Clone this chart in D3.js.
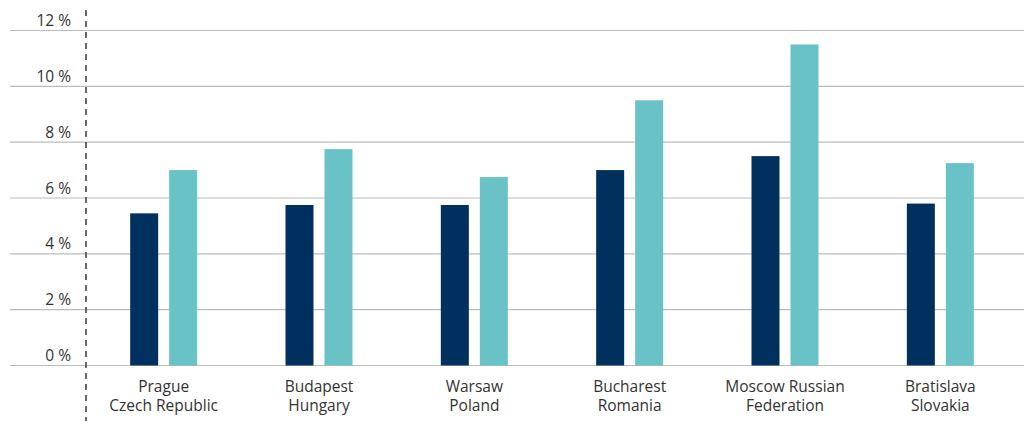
<!DOCTYPE html>
<html>
<head>
<meta charset="utf-8">
<script src="https://cdn.jsdelivr.net/npm/d3@7"></script>
<style>
  html, body { margin: 0; padding: 0; background: #fff; }
  svg { display: block; font-family: "Open Sans", "Noto Sans", sans-serif; }
</style>
</head>
<body>
<svg id="chart" width="1024" height="421"></svg>
<script>
// City / country pairs shown on the category axis
const cities = ["Prague", "Budapest", "Warsaw", "Bucharest", "Moscow Russian", "Bratislava"];
const countries = ["Czech Republic", "Hungary", "Poland", "Romania", "Federation", "Slovakia"];
// Two yield series per market (%)
const seriesNames = ["A", "B"];
const seriesA = [5.45, 5.75, 5.75, 7.0, 7.5, 5.8];
const seriesB = [7.0, 7.75, 6.75, 9.5, 11.5, 7.25];
const yTicks = [0, 2, 4, 6, 8, 10, 12];
const colors = ["#00305e", "#69c2c5"];

const svg = d3.select("#chart");
const W = 1024, H = 421;
const plotLeft = 86, plotRight = 1018;
const y = d3.scaleLinear().domain([0, 12]).range([365.5, 30.5]);

const x0 = d3.scaleBand()
  .domain(cities)
  .range([plotLeft, plotRight])
  .paddingInner(0.5687)
  .paddingOuter(0.5687 / 2);

const x1 = d3.scaleBand()
  .domain(seriesNames)
  .range([0, x0.bandwidth()])
  .paddingInner(0.282);

// Horizontal gridlines
svg.append("g")
  .selectAll("line")
  .data(yTicks)
  .join("line")
  .attr("x1", 10)
  .attr("x2", W)
  .attr("y1", d => y(d))
  .attr("y2", d => y(d))
  .attr("stroke", "#bcbcbc")
  .attr("stroke-width", 1.2);

// Tick labels sit just above each gridline
svg.append("g")
  .selectAll("text")
  .data(yTicks)
  .join("text")
  .attr("x", 71)
  .attr("y", d => y(d) - 4.5)
  .attr("text-anchor", "end")
  .attr("font-size", 15.5)
  .attr("fill", "#333")
  .text(d => d + " %");

// Bars
const rows = cities.map((c, i) => ({ city: c, values: [seriesA[i], seriesB[i]] }));
svg.append("g")
  .selectAll("g")
  .data(rows)
  .join("g")
  .attr("transform", d => `translate(${x0(d.city)},0)`)
  .selectAll("rect")
  .data(d => d.values.map((v, j) => ({ key: seriesNames[j], v, j })))
  .join("rect")
  .attr("x", d => x1(d.key))
  .attr("width", x1.bandwidth())
  .attr("y", d => y(d.v))
  .attr("height", d => y(0) - y(d.v))
  .attr("fill", d => colors[d.j]);

// Category labels (two lines)
const lab = svg.append("g")
  .selectAll("text")
  .data(cities)
  .join("text")
  .attr("text-anchor", "middle")
  .attr("font-size", 15.5)
  .attr("fill", "#333")
  .attr("transform", d => `translate(${x0(d) + x0.bandwidth() / 2},0)`);
lab.append("tspan").attr("x", 0).attr("y", 392).text(d => d);
lab.append("tspan").attr("x", 0).attr("y", 410.5).text((d, i) => countries[i]);

// Dashed vertical axis line
svg.append("line")
  .attr("x1", plotLeft)
  .attr("x2", plotLeft)
  .attr("y1", 10)
  .attr("y2", H)
  .attr("stroke", "#444")
  .attr("stroke-width", 1.6)
  .attr("stroke-dasharray", "6,5");
</script>
</body>
</html>
